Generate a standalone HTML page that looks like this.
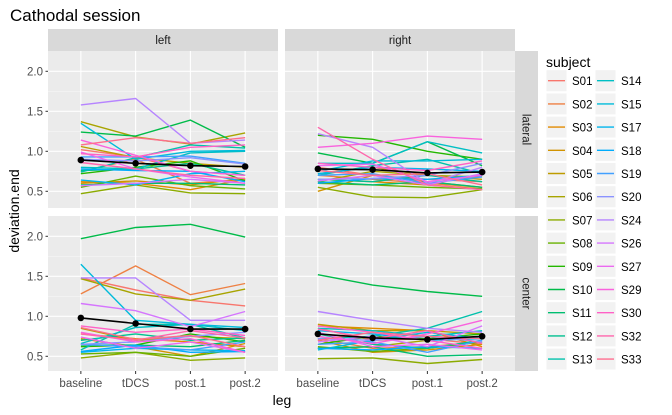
<!DOCTYPE html>
<html><head><meta charset="utf-8"><style>
body{margin:0;background:#fff;}
svg{display:block;font-family:"Liberation Sans",Arial,sans-serif;}
</style></head><body>
<svg id="c" width="672" height="415" xmlns="http://www.w3.org/2000/svg"></svg>
<script>
const subjects=["S01","S02","S03","S04","S05","S06","S07","S08","S09","S10","S11","S12","S13","S14","S15","S17","S18","S19","S20","S24","S26","S27","S29","S30","S32","S33"];
const legs=["baseline","tDCS","post.1","post.2"];
const yTicks=[0.5,1.0,1.5,2.0];
const yTickLabels=["0.5","1.0","1.5","2.0"];
const leftLateral=[[1.02,0.93,0.75,0.70],[0.75,0.90,0.60,0.65],[0.62,0.60,0.52,0.65],[0.60,0.63,0.58,0.66],[1.06,0.92,0.85,0.80],[1.37,1.18,1.09,1.23],[0.47,0.58,0.48,0.47],[0.55,0.69,0.57,0.53],[0.72,0.80,0.88,0.63],[1.24,1.19,1.39,1.05],[0.58,0.60,0.60,0.58],[0.76,0.78,0.85,0.70],[0.74,0.92,1.08,1.04],[0.80,0.78,0.98,1.00],[1.35,0.90,1.00,1.01],[0.64,0.58,0.72,0.75],[0.78,0.76,0.75,0.62],[0.93,0.93,0.94,0.85],[0.90,0.88,0.92,0.84],[1.58,1.66,1.10,1.14],[0.57,0.60,0.65,0.60],[0.99,0.78,0.68,0.60],[1.14,0.95,0.75,0.70],[0.97,0.93,1.05,1.08],[0.86,0.78,0.70,0.66],[1.08,1.17,1.10,1.17]];
const leftCenter=[[1.48,1.33,1.20,1.13],[1.28,1.63,1.27,1.41],[0.78,0.72,0.68,0.62],[0.72,0.62,0.50,0.66],[0.85,0.70,0.75,0.72],[1.47,1.28,1.20,1.34],[0.48,0.55,0.45,0.48],[0.53,0.55,0.50,0.60],[0.62,0.64,0.78,0.68],[1.97,2.11,2.15,1.99],[0.64,0.64,0.62,0.70],[0.70,0.78,0.70,0.73],[0.58,0.90,0.90,0.73],[0.66,0.86,0.90,0.82],[1.65,0.95,0.90,0.86],[0.55,0.60,0.58,0.57],[0.56,0.64,0.55,0.56],[0.65,0.62,0.58,0.68],[0.65,0.68,0.75,0.80],[1.48,1.48,0.95,0.95],[1.16,1.07,0.87,1.06],[0.74,0.60,0.68,0.55],[0.80,0.68,0.72,0.55],[0.88,0.80,0.84,0.76],[0.78,0.70,0.82,0.73],[0.86,0.71,0.76,0.62]];
const rightLateral=[[0.80,0.70,0.65,0.62],[0.70,0.65,0.60,0.55],[0.65,0.62,0.58,0.53],[0.50,0.70,0.62,0.55],[0.72,0.80,0.70,0.65],[0.62,0.75,0.70,0.68],[0.55,0.43,0.42,0.52],[0.60,0.58,0.55,0.53],[1.20,1.15,1.00,0.90],[0.98,0.85,1.12,0.82],[0.62,0.58,0.62,0.55],[0.65,0.62,0.70,0.62],[0.70,0.82,0.90,0.72],[0.85,0.85,1.12,0.98],[0.75,0.88,0.88,0.90],[0.72,0.80,0.78,0.75],[0.60,0.66,0.65,0.70],[0.70,0.72,0.60,0.68],[0.65,0.66,0.70,0.85],[1.22,1.05,0.60,0.80],[0.63,0.70,0.58,0.72],[0.82,0.84,0.62,0.70],[1.05,1.10,1.19,1.15],[0.85,0.80,0.76,0.88],[1.30,0.90,0.58,0.52],[0.76,0.70,0.72,0.58]];
const rightCenter=[[0.85,0.70,0.72,0.65],[0.72,0.60,0.62,0.68],[0.88,0.85,0.82,0.62],[0.70,0.55,0.58,0.65],[0.90,0.82,0.82,0.78],[0.60,0.62,0.70,0.75],[0.47,0.48,0.41,0.46],[0.62,0.56,0.60,0.68],[0.65,0.75,0.72,0.78],[1.52,1.39,1.31,1.25],[0.60,0.62,0.50,0.52],[0.78,0.65,0.60,0.70],[0.72,0.75,0.85,1.06],[0.85,0.82,0.75,0.82],[0.58,0.70,0.80,0.72],[0.82,0.78,0.70,0.72],[0.60,0.58,0.62,0.60],[0.65,0.68,0.55,0.70],[0.72,0.70,0.75,0.68],[1.06,0.95,0.85,0.80],[0.68,0.75,0.62,0.88],[0.80,0.62,0.65,0.58],[0.75,0.66,0.78,0.95],[0.88,0.80,0.70,0.60],[0.84,0.72,0.82,0.66],[0.70,0.80,0.75,0.72]];
const meanLeftLateral=[0.89,0.85,0.82,0.81];
const meanLeftCenter=[0.98,0.91,0.84,0.84];
const meanRightLateral=[0.78,0.77,0.73,0.74];
const meanRightCenter=[0.78,0.73,0.71,0.75];

const NS="http://www.w3.org/2000/svg";
const svg=document.getElementById('c');
function mk(tag,attrs,parent){const e=document.createElementNS(NS,tag);for(const k in attrs)e.setAttribute(k,attrs[k]);(parent||svg).appendChild(e);return e;}
function hcl(h){const L=65,C=100;const hr=h*Math.PI/180;const u=C*Math.cos(hr),v=C*Math.sin(hr);
const Y=Math.pow((L+16)/116,3);const un=0.1978398,vn=0.4683363;const up=u/(13*L)+un,vp=v/(13*L)+vn;
const X=Y*9*up/(4*vp),Z=Y*(12-3*up-20*vp)/(4*vp);
let r=3.2404542*X-1.5371385*Y-0.4985314*Z,g=-0.9692660*X+1.8760108*Y+0.0415560*Z,b=0.0556434*X-0.2040259*Y+1.0572252*Z;
const gm=c=>{c=c<=0.0031308?12.92*c:1.055*Math.pow(c,1/2.4)-0.055;return Math.round(Math.max(0,Math.min(1,c))*255);};
return `rgb(${gm(r)},${gm(g)},${gm(b)})`;}
const colors=subjects.map((s,i)=>hcl(15+360*i/subjects.length));

let t=mk('text',{x:10,y:21,'font-size':17,fill:'#000'});t.textContent='Cathodal session';


const panels=[
 {name:'left-lateral',x0:48,y0:51,h:157,data:leftLateral,mean:meanLeftLateral},
 {name:'right-lateral',x0:285,y0:51,h:157,data:rightLateral,mean:meanRightLateral},
 {name:'left-center',x0:48,y0:216,h:155,data:leftCenter,mean:meanLeftCenter},
 {name:'right-center',x0:285,y0:216,h:155,data:rightCenter,mean:meanRightCenter}];
const W=230;
panels.forEach((p,pi)=>{
 const y2=p.y0+20.3;
 const ys=v=>y2+(2.0-v)*80;
 const xs=i=>p.x0+W/4.2*(0.6+i);
 const g=mk('g',{});
 
 mk('rect',{x:p.x0,y:p.y0,width:W,height:p.h,fill:'#ebebeb'},g);
 [0.75,1.25,1.75].forEach(v=>mk('line',{x1:p.x0,x2:p.x0+W,y1:ys(v),y2:ys(v),stroke:'#f5f5f5','stroke-width':0.6},g));
 yTicks.forEach(v=>mk('line',{x1:p.x0,x2:p.x0+W,y1:ys(v),y2:ys(v),stroke:'#fff','stroke-width':1.1},g));
 legs.forEach((l,i)=>mk('line',{x1:xs(i),x2:xs(i),y1:p.y0,y2:p.y0+p.h,stroke:'#fff','stroke-width':1.1},g));
 p.data.forEach((vals,si)=>{
  const pl=mk('polyline',{points:vals.map((v,i)=>xs(i)+','+ys(v)).join(' '),fill:'none',stroke:colors[si],'stroke-width':1.4},g);
  
 });
 const ml=mk('polyline',{points:p.mean.map((v,i)=>xs(i)+','+ys(v)).join(' '),fill:'none',stroke:'#000','stroke-width':1.6},g);
 
 p.mean.forEach((v,i)=>{const c=mk('circle',{cx:xs(i),cy:ys(v),r:3.3,fill:'#000'},g);
  });
 if(p.x0===48){yTicks.forEach((v,i)=>{mk('line',{x1:45.5,x2:48,y1:ys(v),y2:ys(v),stroke:'#333','stroke-width':1},g);
  const tx=mk('text',{x:43,y:ys(v)+4,'font-size':11.5,fill:'#4d4d4d','text-anchor':'end'},g);tx.textContent=yTickLabels[i];
  });}
 if(pi>=2){legs.forEach((l,i)=>{mk('line',{x1:xs(i),x2:xs(i),y1:371,y2:374,stroke:'#333','stroke-width':1},g);
  const tx=mk('text',{x:xs(i),y:387,'font-size':11.5,fill:'#4d4d4d','text-anchor':'middle'},g);tx.textContent=l;
  });}
});
[['left',48],['right',285]].forEach(([n,x])=>{const g=mk('g',{});
 mk('rect',{x:x,y:29,width:W,height:22,fill:'#d9d9d9'},g);
 const tx=mk('text',{x:x+W/2,y:44,'font-size':11.5,fill:'#1a1a1a','text-anchor':'middle'},g);tx.textContent=n;});
[['lateral',51,157],['center',216,155]].forEach(([n,y,h])=>{const g=mk('g',{});
 mk('rect',{x:515,y:y,width:23,height:h,fill:'#d9d9d9'},g);
 const tx=mk('text',{x:0,y:0,'font-size':11.5,fill:'#1a1a1a','text-anchor':'middle',transform:`translate(522.5,${y+h/2}) rotate(90)`},g);tx.textContent=n;});
let yt=mk('text',{x:0,y:0,'font-size':14,fill:'#000','text-anchor':'middle',transform:'translate(19,211) rotate(-90)'});yt.textContent='deviation.end';

let xt=mk('text',{x:282,y:405,'font-size':14,fill:'#000','text-anchor':'middle'});xt.textContent='leg';

const lg=mk('g',{});
let lt=mk('text',{x:546,y:67,'font-size':14,fill:'#000'},lg);lt.textContent='subject';
subjects.forEach((s,i)=>{const col=i<13?0:1,row=i%13;const cy=80.7+row*23.2;
 const e=mk('g',{},lg);
 const x=546+(col?49:0);
 mk('rect',{x:x,y:cy-11,width:21,height:22,fill:'#f2f2f2',stroke:'#fff','stroke-width':1},e);
 mk('line',{x1:x+2,x2:x+19,y1:cy,y2:cy,stroke:colors[i],'stroke-width':1.4},e);
 const tx=mk('text',{x:x+26,y:cy+4.5,'font-size':11.5,fill:'#000'},e);tx.textContent=s;});
</script>
</body></html>
